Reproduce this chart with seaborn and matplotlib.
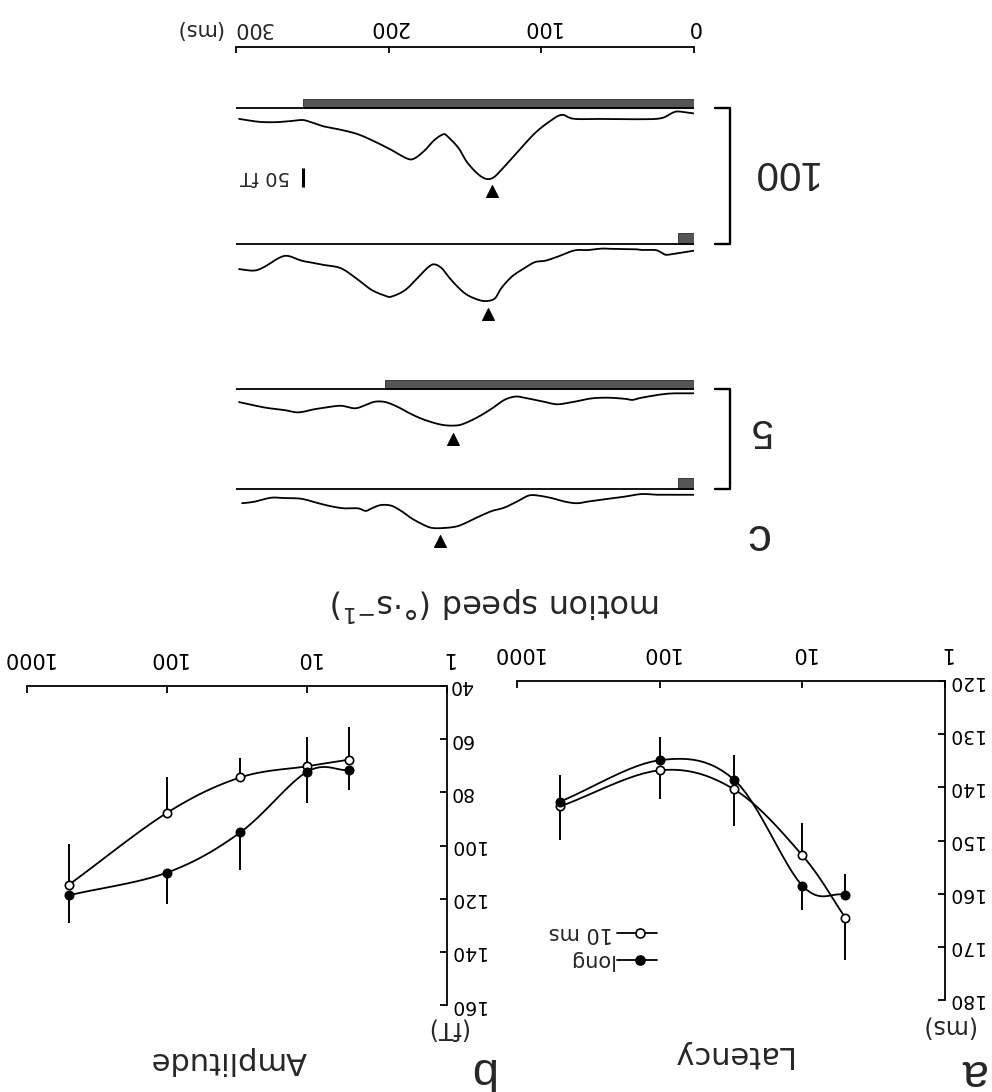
import numpy as np
import seaborn as sns
import matplotlib.pyplot as plt
from matplotlib.ticker import NullLocator

# ---- panels a and b: response vs motion speed ----
speeds = [5, 10, 30, 100, 500]
speed_ticks = [1, 10, 100, 1000]
speed_tick_labels = ['1', '10', '100', '1000']

latency_10ms = [164.5, 152.8, 140.4, 136.8, 143.6]
latency_long = [160.2, 158.5, 138.6, 134.9, 142.7]
# one-sided error bars (sign gives direction)
latency_err_10ms = [7.9, -6.0, 6.8, 5.4, 6.3]
latency_err_long = [-3.9, 4.6, -4.7, -4.3, -5.1]
latency_ticks = [120, 130, 140, 150, 160, 170, 180]

amplitude_10ms = [67.7, 70.2, 74.4, 87.7, 114.7]
amplitude_long = [71.7, 72.3, 95.1, 110.2, 118.7]
amplitude_err_10ms = [-12.1, -11.0, -7.3, -13.5, -15.2]
amplitude_err_long = [7.5, 11.7, 14.2, 11.9, 10.4]
amplitude_ticks = [40, 60, 80, 100, 120, 140, 160]

# ---- panel c: single waveforms (ms, fT) ----
t_100_long = [0, 9, 13, 21, 34, 56, 78, 86, 93, 104, 115, 124, 132, 139, 148, 154, 161, 164, 170, 176,
              183, 188, 198, 209, 220, 231, 242, 253, 257, 264, 274, 285, 298]
v_100_long = [14, 9, 11, 27, 30, 29, 29, 18, 32, 68, 118, 159, 191, 187, 150, 109, 78, 71, 87, 114,
              137, 137, 114, 91, 71, 59, 50, 35, 32, 35, 38, 37, 29]
t_100_short = [0, 12, 18, 21, 25, 33, 38, 52, 60, 69, 78, 89, 97, 104, 111, 119, 126, 130, 135, 141,
               150, 159, 165, 170, 174, 180, 189, 198, 202, 211, 220, 231, 242, 248, 257, 266, 272, 281, 288, 298]
v_100_short = [18, 26, 29, 23, 16, 16, 14, 13, 12, 16, 17, 34, 45, 49, 66, 88, 120, 147, 155, 152,
               134, 97, 66, 55, 63, 88, 125, 143, 141, 125, 97, 66, 57, 52, 45, 32, 38, 61, 72, 68]
t_5_long = [0, 12, 21, 34, 40, 45, 56, 67, 78, 89, 97, 111, 117, 124, 132, 141, 150, 156, 165, 176,
            185, 194, 202, 209, 215, 222, 231, 240, 248, 259, 268, 281, 298]
v_5_long = [11, 11, 14, 23, 29, 26, 23, 25, 34, 41, 35, 23, 20, 29, 52, 75, 93, 99, 97, 84,
            68, 48, 35, 34, 43, 52, 45, 49, 54, 63, 57, 50, 35]
t_5_short = [0, 12, 23, 34, 45, 56, 67, 76, 84, 93, 102, 108, 115, 124, 132, 141, 150, 156, 165, 172,
             178, 185, 191, 198, 205, 211, 215, 220, 229, 237, 246, 257, 268, 277, 288, 296]
v_5_short = [16, 16, 16, 14, 21, 27, 33, 39, 35, 25, 18, 18, 33, 51, 60, 76, 94, 103, 107, 106,
             96, 80, 62, 46, 44, 53, 60, 53, 53, 48, 39, 27, 25, 24, 35, 39]
stim_durations = [256, 10, 202, 10]        # ms, per trace (100 long, 100 short, 5 long, 5 short)
peak_latencies = [132, 135, 158, 166]      # ms, arrowheads
time_ticks = [0, 100, 200, 300]
scale_ft = 50

W, H = 992, 1092
sns.set_theme(style='ticks')
plt.rcParams['font.family'] = ['DejaVu Sans']
plt.rcParams['axes.edgecolor'] = 'black'
plt.rcParams['xtick.color'] = 'black'
plt.rcParams['ytick.color'] = 'black'

fig = plt.figure(figsize=(W / 100, H / 100), dpi=100)
fig.patch.set_facecolor('white')


def frame(x0, y0, x1, y1):
    # pixel box (picture coordinates) -> figure axes rect
    return [x0 / W, 1 - y1 / H, (x1 - x0) / W, (y1 - y0) / H]


def put(px, py, s, size, family='DejaVu Sans', **kw):
    # every text sits upside down, as in the scanned figure
    fig.text(px / W, 1 - py / H, s, rotation=180, ha='center', va='center',
             fontsize=size, family=family, **kw)


def smooth(xs, ys, log=False, n=12):
    x = np.log10(xs) if log else np.asarray(xs, float)
    pts = np.column_stack([x, ys]).astype(float)
    ext = np.vstack([2 * pts[0] - pts[1], pts, 2 * pts[-1] - pts[-2]])
    u = np.linspace(0, 1, n, endpoint=False)[:, None]
    segs = []
    for i in range(1, len(ext) - 2):
        p0, p1, p2, p3 = ext[i - 1], ext[i], ext[i + 1], ext[i + 2]
        segs.append(0.5 * (2 * p1 + (p2 - p0) * u + (2 * p0 - 5 * p1 + 4 * p2 - p3) * u ** 2
                           + (3 * p1 - p0 - 3 * p2 + p3) * u ** 3))
    segs.append(pts[-1:])
    out = np.vstack(segs)
    return (10 ** out[:, 0] if log else out[:, 0]), out[:, 1]


def speed_panel(ax, v10, vlong, e10, elong, yticks):
    ax.set_xscale('log')
    for vals, errs, face in ((v10, e10, 'white'), (vlong, elong, 'black')):
        ax.vlines(speeds, vals, np.add(vals, errs), color='black', lw=1.4, zorder=1)
        sx, sy = smooth(speeds, vals, log=True)
        ax.plot(sx, sy, color='black', lw=1.3, zorder=2)
        sns.scatterplot(x=speeds, y=vals, ax=ax, color=face, edgecolor='black',
                        linewidth=1.2, s=36, zorder=3, legend=False)
    ax.set_xlim(1000, 1)
    ax.set_ylim(yticks[-1], yticks[0])
    ax.set_xticks(speed_ticks)
    ax.set_xticklabels(speed_tick_labels)
    ax.xaxis.set_minor_locator(NullLocator())
    ax.set_yticks(yticks)
    ax.set_yticklabels([str(v) for v in yticks])
    ax.xaxis.tick_top()
    ax.yaxis.tick_right()
    for s in ('left', 'bottom'):
        ax.spines[s].set_visible(False)
    for s in ('top', 'right'):
        ax.spines[s].set_linewidth(1.3)
    ax.tick_params(direction='in', length=5, width=1.3, labelrotation=180)
    ax.tick_params(axis='x', pad=13, labelsize=15)
    ax.tick_params(axis='y', pad=1.5, labelsize=13.5)
    for lbl in ax.get_yticklabels():
        lbl.set_va('center')
    ax.set_facecolor('none')


ax_a = fig.add_axes(frame(517, 681, 945, 1000))
speed_panel(ax_a, latency_10ms, latency_long, latency_err_10ms, latency_err_long, latency_ticks)
ax_b = fig.add_axes(frame(27, 686, 447, 1005))
speed_panel(ax_b, amplitude_10ms, amplitude_long, amplitude_err_10ms, amplitude_err_long, amplitude_ticks)

# legend of panel a (text first, as the whole figure is turned)
for (yf, lab, face) in ((0.21, '10 ms', 'white'), (0.125, 'long', 'black')):
    ax_a.plot([0.234, 0.327], [yf, yf], color='black', lw=1.3, transform=ax_a.transAxes)
    ax_a.plot([0.287], [yf], marker='o', ms=6.5, mfc=face, mec='black', mew=1.2,
              transform=ax_a.transAxes)
    ax_a.text(0.224, yf, lab, rotation=180, ha='right', va='center', fontsize=15,
              transform=ax_a.transAxes)

# ---- panel c ----
ax_c = fig.add_axes(frame(236, 46.7, 693.5, 560))
baselines = [168, 539, 935, 1207]
bar_heights = [25, 30, 25, 30]
traces = [(t_100_long, v_100_long), (t_100_short, v_100_short),
          (t_5_long, v_5_long), (t_5_short, v_5_short)]
for y0, (tt, vv), dur, bh, peak in zip(baselines, traces, stim_durations, bar_heights, peak_latencies):
    ax_c.hlines(y0, 0, 300, color='black', lw=1.3)
    ax_c.barh(y0 - bh / 2, dur, height=bh, left=0, color='#555555', edgecolor='#2b2b2b', lw=0.6)
    sx, sy = smooth(tt, vv)
    sns.lineplot(x=sx, y=y0 + sy, sort=False, estimator=None, color='black', lw=1.3, ax=ax_c)
    sns.scatterplot(x=[peak], y=[y0 + max(vv) + 36], marker='^', s=75, color='black',
                    edgecolor='black', ax=ax_c, legend=False)

# speed brackets
for ya, yb in ((baselines[0], baselines[1]), (baselines[2], baselines[3])):
    ax_c.plot([-14, -24, -24, -14], [ya, ya, yb, yb], color='black', lw=1.7, clip_on=False)
# 50 fT scale bar
ax_c.vlines(256, 332, 332 + scale_ft, color='black', lw=2.2)

ax_c.set_xlim(300, 0)
ax_c.set_ylim(1401, 0)
ax_c.set_xticks(time_ticks)
ax_c.set_xticklabels(['0', '100', '200', ''])
ax_c.set_yticks([])
ax_c.xaxis.tick_top()
for s in ('left', 'right', 'bottom'):
    ax_c.spines[s].set_visible(False)
ax_c.spines['top'].set_linewidth(1.3)
ax_c.tick_params(axis='x', direction='in', length=4, width=1.3, pad=7, labelsize=15, labelrotation=180)
ax_c.set_facecolor('none')

# ---- texts ----
put(252, 28.5, '300', 15)
put(199, 28.5, '(ms)', 15)
put(265.5, 176.7, '50 fT', 14)
put(783, 172, '100', 29, family='Liberation Sans')
put(760, 430, '5', 29, family='Liberation Sans')
put(756, 536, 'c', 34, family='Liberation Sans')
put(496, 604, 'motion speed (°·s$^{-1}$)', 23)
put(731, 1055, 'Latency', 22)
put(947, 1027, '(ms)', 17)
put(972, 1072, 'a', 34, family='Liberation Sans')
put(229, 1060, 'Amplitude', 22)
put(446, 1029, '(fT)', 17)
put(481, 1070, 'b', 34, family='Liberation Sans')

fig.savefig('out.png', dpi=100, facecolor='white')
